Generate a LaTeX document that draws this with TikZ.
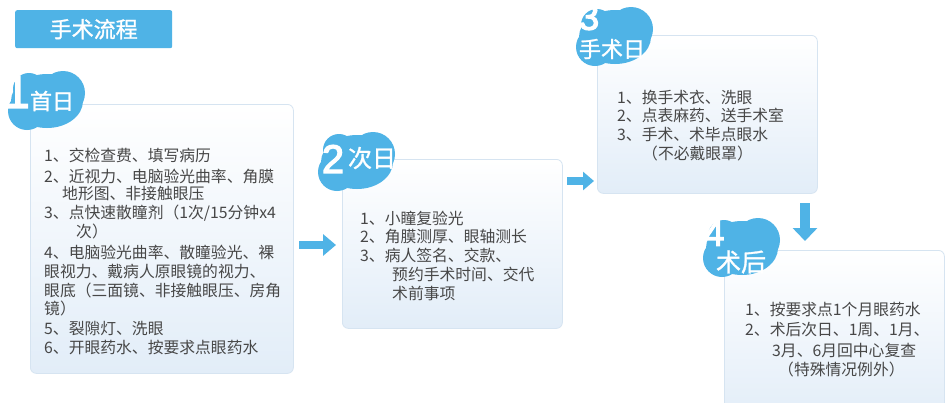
\documentclass[tikz,border=0pt]{standalone}
\usepackage{fontspec}
\newfontfamily\cjk{Noto Sans CJK SC}
\newfontfamily\cjkb{Noto Sans CJK SC}[FakeBold=1.2]
\newfontfamily\numfont{Liberation Sans}[FakeBold=3]
\usetikzlibrary{arrows.meta}
\definecolor{bblue}{HTML}{4FB3E6}
\definecolor{boxline}{HTML}{D6E4F1}
\definecolor{boxbot}{HTML}{E2EDF8}
\definecolor{txt}{HTML}{474747}
\tikzset{
  stepbox/.style={draw=boxline, line width=0.8pt, rounded corners=6pt,
    top color=white, bottom color=boxbot, anchor=north west, inner sep=0pt},
  body/.style={anchor=west, inner sep=0pt, text=txt,
    font=\cjk\fontsize{15.8}{19}\selectfont},
  badge/.style={anchor=center, inner sep=0pt, text=white},
  digit/.style={anchor=center, inner sep=0pt, text=white,
    font=\numfont\fontsize{40}{40}\selectfont},
  pics/blob/.style={code={
    \fill[bblue] (0,0) ellipse [x radius=36, y radius=27];
    \fill[bblue] (-20,10) circle [radius=19];
    \fill[bblue] (16,-8) circle [radius=22];
    \fill[bblue] (-18,-12) circle [radius=16];
  }},
  blockarrow/.style={draw=bblue, line width=#1}
}
\begin{document}
\begin{tikzpicture}[x=1pt,y=-1pt]
\useasboundingbox (0,0) rectangle (950,402);
\fill[white] (0,0) rectangle (950,402);

% title
\node[fill=bblue, rounded corners=2pt, minimum width=157pt, minimum height=38pt,
  anchor=north west, inner sep=0pt, text=white,
  font=\cjkb\fontsize{22}{22}\selectfont] (title) at (15,10) {手术流程};

% boxes
\node[stepbox, minimum width=263pt, minimum height=269pt] (box1) at (30,104) {};
\node[stepbox, minimum width=220pt, minimum height=169pt] (box2) at (342,159) {};
\node[stepbox, minimum width=220pt, minimum height=158pt] (box3) at (597,35) {};
\node[stepbox, minimum width=220pt, minimum height=170pt] (box4) at (724,250) {};

% badges
\pic at (47,101) {blob};
\pic at (357,162) {blob};
\pic at (615,37) {blob};
\pic at (742,248) {blob};

\node[digit, font=\numfont\fontsize{46}{46}\selectfont] (n1) at (17,92) {1};
\node[digit] (n2) at (333,159) {2};
\node[digit, font=\numfont\fontsize{37}{37}\selectfont] (n3) at (589,17) {3};
\node[digit, font=\numfont\fontsize{37}{37}\selectfont] (n4) at (714,233) {4};

\node[badge, font=\cjkb\fontsize{22}{22}\selectfont] (l1) at (52,101) {首日};
\node[badge, font=\cjkb\fontsize{24}{24}\selectfont] (l2) at (372,158) {次日};
\node[badge, font=\cjkb\fontsize{22}{22}\selectfont] (l3) at (612,49) {手术日};
\node[badge, font=\cjkb\fontsize{25}{25}\selectfont] (l4) at (741,262) {术后};

% box 1 text
\node[body] (t11) at (44,155) {1、交检查费、填写病历};
\node[body] (t12) at (44,176) {2、近视力、电脑验光曲率、角膜};
\node[body] (t13) at (62,194) {地形图、非接触眼压};
\node[body] (t14) at (44,213) {3、点快速散瞳剂（1次/15分钟x4};
\node[body] (t15) at (76,231) {次）};
\node[body] (t16) at (44,252) {4、电脑验光曲率、散瞳验光、裸};
\node[body] (t17) at (44,271) {眼视力、戴病人原眼镜的视力、};
\node[body] (t18) at (44,290) {眼底（三面镜、非接触眼压、房角};
\node[body] (t19) at (44,308) {镜）};
\node[body] (t1a) at (44,328) {5、裂隙灯、洗眼};
\node[body] (t1b) at (44,347) {6、开眼药水、按要求点眼药水};

% box 2 text
\node[body] (t21) at (360,218) {1、小瞳复验光};
\node[body] (t22) at (360,237) {2、角膜测厚、眼轴测长};
\node[body] (t23) at (360,255) {3、病人签名、交款、};
\node[body] (t24) at (392,274) {预约手术时间、交代};
\node[body] (t25) at (392,293) {术前事项};

% box 3 text
\node[body] (t31) at (617,97) {1、换手术衣、洗眼};
\node[body] (t32) at (617,115) {2、点表麻药、送手术室};
\node[body] (t33) at (617,134) {3、手术、术毕点眼水};
\node[body] (t34) at (642,153) {（不必戴眼罩）};

% box 4 text
\node[body] (t41) at (745,309) {1、按要求点1个月眼药水};
\node[body] (t42) at (745,330) {2、术后次日、1周、1月、};
\node[body] (t43) at (772,350) {3月、6月回中心复查};
\node[body] (t44) at (778,369) {（特殊情况例外）};

% arrows
\coordinate (a1s) at (299,245);
\coordinate (a1e) at (336,245);
\draw[blockarrow=8pt, -{Triangle[length=13pt,width=21pt]}] (a1s) -- (a1e);
\coordinate (a2s) at (567,181);
\coordinate (a2e) at (594,181);
\draw[blockarrow=8pt, -{Triangle[length=11pt,width=18pt]}] (a2s) -- (a2e);
\coordinate (a3s) at (805,203);
\coordinate (a3e) at (805,241);
\draw[blockarrow=10pt, -{Triangle[length=13pt,width=24pt]}] (a3s) -- (a3e);
\end{tikzpicture}
\end{document}
